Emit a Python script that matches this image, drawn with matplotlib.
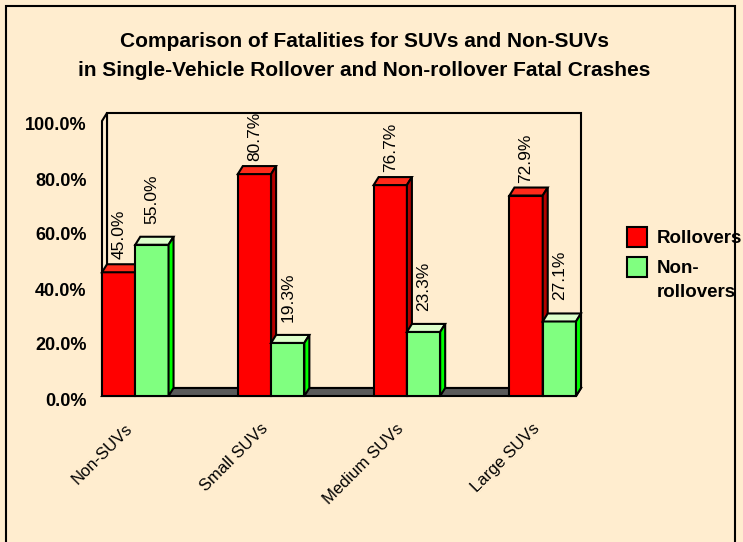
""" SUV rollover fatalities, Excel-style 3-D bar chart """
import matplotlib
matplotlib.use("Agg")
import matplotlib.pyplot as plt
from matplotlib.patches import Polygon, Rectangle
from matplotlib.transforms import Affine2D

categories = ["Non-SUVs", "Small SUVs", "Medium SUVs", "Large SUVs"]
rollovers = [45.0, 80.7, 76.7, 72.9]
non_rollovers = [55.0, 19.3, 23.3, 27.1]
series_names = ["Rollovers", "Non-\nrollovers"]
yticks = [0, 20, 40, 60, 80, 100]

title = ("Comparison of Fatalities for SUVs and Non-SUVs\n"
         "in Single-Vehicle Rollover and Non-rollover Fatal Crashes")

BG = "#FFEDCF"
RED, RED_TOP, RED_SIDE = "#FF0000", "#FF2A1A", "#B40000"
GREEN, GREEN_TOP, GREEN_SIDE = "#80FF80", "#DDFFCC", "#00FF00"
FLOOR = "#5A5A5A"
DX, DY = 5, 8          # depth of the 3-D effect, pixels
W = 0.245              # bar width in category units
LW = 1.5

plt.rcParams['font.family'] = ['Liberation Sans', 'DejaVu Sans']

fig = plt.figure(figsize=(7.43, 5.42), dpi=100, facecolor=BG)
ax = fig.add_axes([102 / 743, (542 - 396) / 542, 474 / 743, 275 / 542])
ax.set_facecolor("none")
ax.set_xlim(-W, len(categories) - 1 + W)
ax.set_ylim(0, 100)
for s in ax.spines.values():
    s.set_visible(False)

# pixel depth -> data units
p0 = ax.transData.transform((0, 0))
p1 = ax.transData.transform((1, 1))
ddx = DX / (p1[0] - p0[0])
ddy = DY / (p1[1] - p0[1])
x0, x1 = ax.get_xlim()
ytop = ax.get_ylim()[1]

# walls and floor
ax.add_patch(Rectangle((x0 + ddx, ddy), x1 - x0, ytop, fc=BG, ec="k",
                       lw=LW, zorder=0.5, clip_on=False))
ax.add_patch(Polygon([(x0, 0), (x0, ytop), (x0 + ddx, ytop + ddy),
                      (x0 + ddx, ddy)], fc=BG, ec="k", lw=LW,
                     zorder=0.6, clip_on=False))
ax.add_patch(Polygon([(x0, 0), (x1, 0), (x1 + ddx, ddy), (x0 + ddx, ddy)],
                     fc=FLOOR, ec="k", lw=LW, zorder=1, clip_on=False))


def bars3d(xs, heights, front, top, side, z, gap):
    ax.bar(xs, heights, W, color=front, ec="k", lw=LW, zorder=z,
           clip_on=False)
    for x, h in zip(xs, heights):
        l, r = x - W / 2, x + W / 2
        ax.add_patch(Polygon([(l, h), (r, h), (r + ddx, h + ddy),
                              (l + ddx, h + ddy)], fc=top, ec="k", lw=LW,
                             zorder=z, clip_on=False, joinstyle="miter"))
        ax.add_patch(Polygon([(r, 0), (r, h), (r + ddx, h + ddy),
                              (r + ddx, ddy)], fc=side, ec="k", lw=LW,
                             zorder=z, clip_on=False, joinstyle="miter"))
        ax.annotate(f"{h:.1f}%", xy=(x, h), xytext=(0, DY + gap),
                    textcoords="offset pixels", rotation=90, ha="center",
                    va="bottom", fontsize=12.5, zorder=10)


idx = list(range(len(categories)))
bars3d([i - W / 2 for i in idx], rollovers, RED, RED_TOP, RED_SIDE, 3, 5)
bars3d([i + W / 2 for i in idx], non_rollovers, GREEN, GREEN_TOP,
       GREEN_SIDE, 4, 13)

ax.set_yticks(yticks)
ax.set_yticklabels([f"{t:.1f}%" for t in yticks], fontsize=13,
                   fontweight="bold")
ax.tick_params(axis="y", length=0, pad=11)
for lab in ax.get_yticklabels():
    lab.set_transform(lab.get_transform() + Affine2D().translate(0, -3))

ax.set_xticks(idx)
ax.set_xticklabels(categories, rotation=45, ha="right", va="top",
                   fontsize=12)
ax.tick_params(axis="x", length=0, pad=18)

fig.text(364 / 743, 1 - 56 / 542, title, ha="center", va="center",
         fontsize=15, fontweight="bold", linespacing=1.65)

# legend, drawn by hand so the swatch sits beside the first text line
leg_colors = [RED, GREEN]
leg_tops = [227, 257]
for name, color, top in zip(series_names, leg_colors, leg_tops):
    fig.add_artist(Rectangle((627 / 743, 1 - (top + 20) / 542), 20 / 743,
                             20 / 542, transform=fig.transFigure, fc=color,
                             ec="k", lw=LW))
    fig.text(657 / 743, 1 - (top + 3) / 542, name, ha="left", va="top",
             fontsize=13.5, fontweight="bold", linespacing=1.55)

# outer chart border
fig.add_artist(Rectangle((6 / 743, -0.05), 729 / 743, 1 - 6 / 542 + 0.05,
                         transform=fig.transFigure, fill=False, ec="k",
                         lw=1.5))

fig.savefig("out.png", dpi=100, facecolor=BG)
